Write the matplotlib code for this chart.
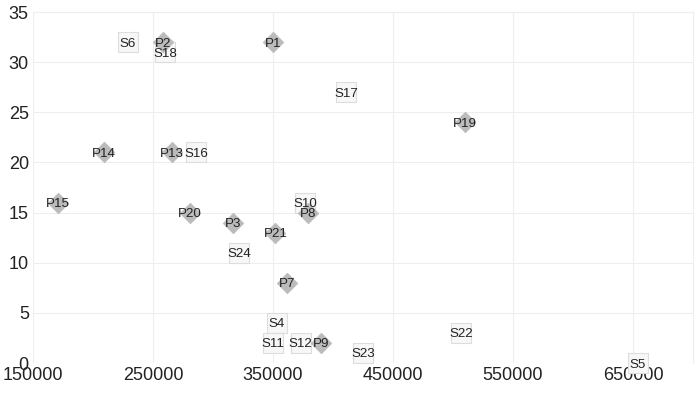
import matplotlib.pyplot as plt

plt.rcParams['font.family'] = ['Liberation Sans', 'DejaVu Sans']

# P points (diamonds)
p_names = ["P1", "P2", "P3", "P7", "P8", "P9", "P13", "P14", "P15", "P19", "P20", "P21"]
p_x = [350000, 258000, 317000, 362000, 379000, 390000, 266000, 209000, 171000, 510000, 281000, 352000]
p_y = [32, 32, 14, 8, 15, 2, 21, 21, 16, 24, 15, 13]

# S points (squares)
s_names = ["S4", "S5", "S6", "S10", "S11", "S12", "S16", "S17", "S18", "S22", "S23", "S24"]
s_x = [353000, 654000, 229000, 377000, 350000, 373000, 286000, 411000, 260000, 507000, 425000, 322000]
s_y = [4, 0, 32, 16, 2, 2, 21, 27, 31, 3, 1, 11]

fig = plt.figure(figsize=(7, 3.94), dpi=100)
ax = fig.add_axes([33 / 700, 1 - 363 / 394, 660 / 700, 351 / 394])

ax.scatter(s_x, s_y, marker='s', s=14 ** 2, facecolor='#f7f7f7', edgecolor='#dddddd',
           linewidth=0.8, zorder=2, clip_on=False)
ax.scatter(p_x, p_y, marker='D', s=10.5 ** 2, facecolor='#bbbbbb', edgecolor='#bbbbbb',
           linewidth=0.5, zorder=3, clip_on=False)

for name, x, y in zip(s_names + p_names, s_x + p_x, s_y + p_y):
    ax.text(x, y, name, ha='center', va='center_baseline', fontsize=9.6,
            color='#222222', zorder=4)

ax.set_xlim(150000, 700000)
ax.set_ylim(0, 35)
ax.set_xticks([150000, 250000, 350000, 450000, 550000, 650000])
ax.set_yticks([0, 5, 10, 15, 20, 25, 30, 35])
ax.grid(True, color='#eeeeee', linewidth=0.8, zorder=0)
ax.set_axisbelow(True)
for side in ['left', 'bottom']:
    ax.spines[side].set_visible(False)
for side in ['top', 'right']:
    ax.spines[side].set_color('#eeeeee')
    ax.spines[side].set_linewidth(0.8)
ax.tick_params(length=0, labelsize=13, colors='#222222', pad=3)

fig.savefig('out.png', dpi=100)
